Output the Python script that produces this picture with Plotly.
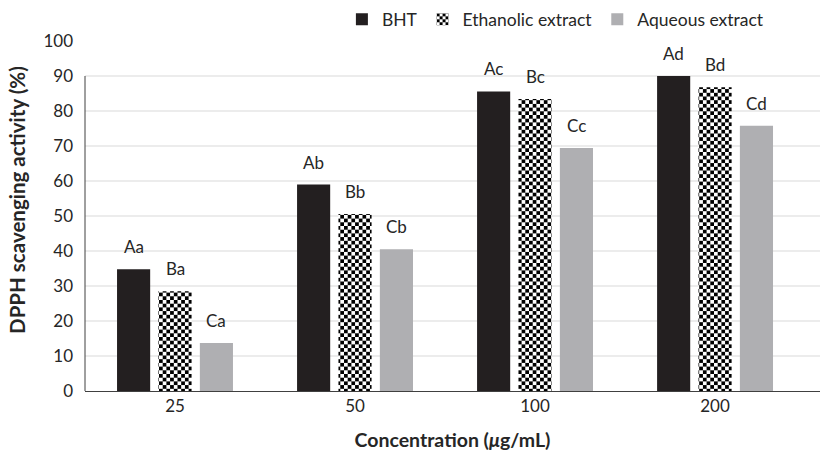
import plotly.graph_objects as go

categories = ["25", "50", "100", "200"]
bht = [34.8, 59.0, 85.6, 90.0]
ethanolic = [28.5, 50.6, 83.4, 86.8]
aqueous = [13.7, 40.5, 69.4, 75.8]
bht_labels = ["Aa", "Ab", "Ac", "Ad"]
eth_labels = ["Ba", "Bb", "Bc", "Bd"]
aq_labels = ["Ca", "Cb", "Cc", "Cd"]
y_ticks = [0, 10, 20, 30, 40, 50, 60, 70, 80, 90, 100]
grid_vals = [10, 20, 30, 40, 50, 60, 70, 80, 90]
y_title = "DPPH scavenging activity (%)"
x_title = "Concentration (<i>μ</i>g/mL)"

FONT = "Lato"
TXT = "#262626"

s = 7.4
h = s / 2
checker = f"M0,0H{h}V{h}H0Z M{h},{h}H{s}V{s}H{h}Z"

fig = go.Figure()
fig.add_bar(name="BHT", x=categories, y=bht,
            marker=dict(color="#231f20", line=dict(width=0)))

eth_kwargs = dict(name="Ethanolic extract", x=categories, y=ethanolic)
try:
    tr = go.Bar(**eth_kwargs, marker=dict(color="white", line=dict(width=0),
                pattern=dict(path=checker, size=s, fgcolor="black", bgcolor="white",
                             fillmode="replace", solidity=1)))
except Exception:
    tr = go.Bar(**eth_kwargs, marker=dict(color="white", line=dict(width=0),
                pattern=dict(shape=".", size=5, solidity=0.5, fgcolor="black",
                             bgcolor="white", fillmode="replace")))
fig.add_trace(tr)

fig.add_bar(name="Aqueous extract", x=categories, y=aqueous,
            marker=dict(color="#afafb2", line=dict(width=0)))

BARGAP = 0.31
slot_px = 180 * (1 - BARGAP) / 3
for i, (vals, labs) in enumerate([(bht, bht_labels), (ethanolic, eth_labels),
                                  (aqueous, aq_labels)]):
    for j, (v, t) in enumerate(zip(vals, labs)):
        fig.add_annotation(x=j, y=v, text=t, showarrow=False, xref="x", yref="y",
                           xanchor="center", yanchor="bottom",
                           xshift=(i - 1) * slot_px, yshift=10,
                           font=dict(family=FONT, size=17, color=TXT))

# y-axis title (placed slightly above the plot centre, as in the reference)
fig.add_annotation(text=f"<b>{y_title}</b>", textangle=-90, showarrow=False,
                   xref="paper", yref="paper", x=-0.0925, y=0.546,
                   xanchor="center", yanchor="middle",
                   font=dict(family=FONT, size=20.5, color=TXT))

for g in grid_vals:
    fig.add_shape(type="line", xref="paper", yref="y", x0=0, x1=1, y0=g, y1=g,
                  line=dict(color="#d9d9d9", width=1), layer="below")
fig.add_shape(type="line", xref="paper", yref="y", x0=0, x1=0, y0=0, y1=grid_vals[-1],
              line=dict(color="#404040", width=1))

fig.update_layout(
    width=822, height=451,
    margin=dict(l=85, r=2, t=41, b=60),
    plot_bgcolor="white", paper_bgcolor="white",
    barmode="group", bargap=BARGAP, bargroupgap=0.2,
    font=dict(family=FONT, size=17, color=TXT),
    legend=dict(orientation="h", x=0.64, xanchor="center",
                y=1.113, yanchor="top",
                font=dict(family=FONT, size=17.5, color=TXT),
                itemwidth=30, traceorder="normal"),
    xaxis=dict(type="category", range=[-0.5, 3.583], showline=True,
               linecolor="#404040", linewidth=1,
               showgrid=False, ticks="", tickfont=dict(size=17),
               title=dict(text=f"<b>{x_title}</b>",
                          font=dict(size=19.5), standoff=18)),
    yaxis=dict(range=[0, 100], tickvals=y_ticks, showgrid=False, zeroline=False,
               showline=False, ticks="", ticklabelstandoff=11, tickfont=dict(size=17)),
)

fig.write_html("out.html")
